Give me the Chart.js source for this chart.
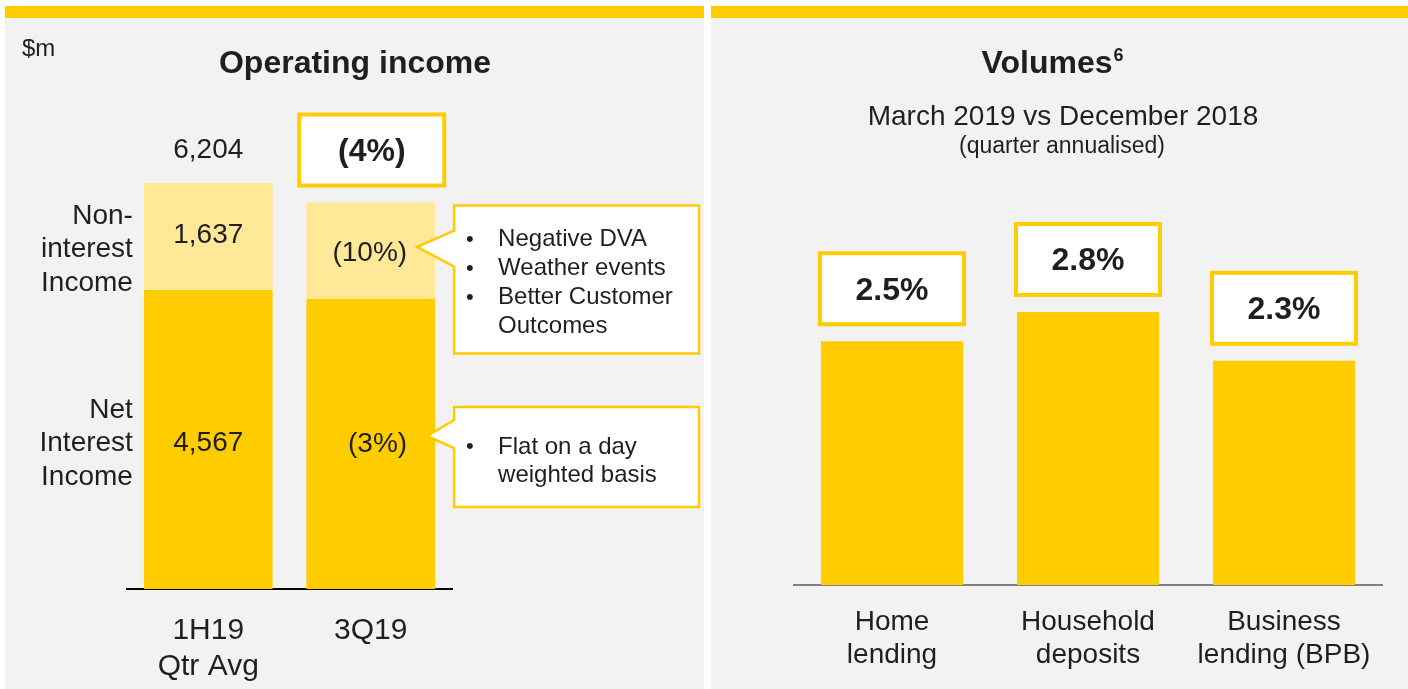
<!DOCTYPE html>
<html>
<head>
<meta charset="utf-8">
<script src="https://cdn.jsdelivr.net/npm/chart.js@4.4.1/dist/chart.umd.min.js"></script>
<style>
body{margin:0;width:1408px;height:689px;background:#fff;position:relative;overflow:hidden}
.panel{position:absolute;top:6px;height:683px;background:#f2f2f2;border-top:12px solid #ffcc00;box-sizing:border-box}
canvas{position:absolute;top:0}
</style>
</head>
<body>
<div class="panel" style="left:5px;width:699px"></div>
<div class="panel" style="left:711px;width:697px"></div>
<canvas id="opIncome" width="699" height="689" style="left:5px"></canvas>
<canvas id="volumes" width="697" height="689" style="left:711px"></canvas>
<script>
var FONT = '"Liberation Sans", Arial, sans-serif';
var YELLOW = '#ffcc00', LIGHT = '#ffe999', INK = '#1f1f1f';

/* Operating income, $m */
var periods = [['1H19', 'Qtr Avg'], '3Q19'];
var netInterest = [4567, 4430];
var nonInterest = [1637, 1473];
var niiLabels = ['4,567', '(3%)'];
var nonLabels = ['1,637', '(10%)'];
var totalLabel = '6,204';
var totalChange = '(4%)';
var nonNotes = [['Negative DVA'], ['Weather events'], ['Better Customer', 'Outcomes']];
var niiNotes = [['Flat on a day', 'weighted basis']];

/* Volumes, % growth */
var volCats = [['Home', 'lending'], ['Household', 'deposits'], ['Business', 'lending (BPB)']];
var volGrowth = [2.5, 2.8, 2.3];

function font(size, bold) {
  return (bold ? 'bold ' : '') + size + 'px ' + FONT;
}

// y is the visual centre of the text; canvas 'middle' sits a touch high
function text(ctx, str, x, y, size, bold, align) {
  ctx.font = font(size, bold);
  ctx.fillStyle = INK;
  ctx.textAlign = align || 'center';
  ctx.textBaseline = 'middle';
  ctx.fillText(str, x, y + 2);
}

function labelBox(ctx, cx, bottom, w, h, str) {
  ctx.save();
  ctx.fillStyle = '#fff';
  ctx.strokeStyle = YELLOW;
  ctx.lineWidth = 4;
  ctx.fillRect(cx - w / 2, bottom - h, w, h);
  ctx.strokeRect(cx - w / 2, bottom - h, w, h);
  ctx.restore();
  text(ctx, str, cx, bottom - h / 2, 32, true);
}

function callout(ctx, left, top, right, bottom, tipX, tipY, up, down, notes, firstY, step) {
  ctx.save();
  ctx.beginPath();
  ctx.moveTo(left, top);
  ctx.lineTo(right, top);
  ctx.lineTo(right, bottom);
  ctx.lineTo(left, bottom);
  ctx.lineTo(left, tipY + down);
  ctx.lineTo(tipX, tipY);
  ctx.lineTo(left, tipY - up);
  ctx.closePath();
  ctx.fillStyle = '#fff';
  ctx.fill();
  ctx.strokeStyle = YELLOW;
  ctx.lineWidth = 2.5;
  ctx.stroke();
  ctx.restore();
  var y = top + firstY;
  notes.forEach(function (item) {
    text(ctx, '\u2022', left + 12, y, 22, false, 'left');
    item.forEach(function (line) {
      text(ctx, line, left + 44, y, 24, false, 'left');
      y += step;
    });
  });
}

var opIncomeLabels = {
  id: 'opIncomeLabels',
  afterDraw: function (chart) {
    var ctx = chart.ctx;
    var nii = chart.getDatasetMeta(0).data;
    var non = chart.getDatasetMeta(1).data;
    function mid(b) { return (b.y + b.base) / 2; }

    ctx.save();
    text(ctx, '$m', 17, 47, 24, false, 'left');
    text(ctx, 'Operating income', 350, 62, 32, true);

    text(ctx, totalLabel, non[0].x, non[0].y - 35, 28);
    labelBox(ctx, non[1].x + 1, non[1].y - 17, 145, 71, totalChange);

    text(ctx, nonLabels[0], non[0].x, mid(non[0]) - 3, 28);
    text(ctx, niiLabels[0], nii[0].x, mid(nii[0]) + 2, 28);
    var r1 = non[1].x + non[1].width / 2;
    text(ctx, nonLabels[1], r1 - 28, mid(non[1]) + 1, 28, false, 'right');
    text(ctx, niiLabels[1], r1 - 28, mid(nii[1]) - 2, 28, false, 'right');

    var l0 = nii[0].x - nii[0].width / 2 - 11;
    ['Non-', 'interest', 'Income'].forEach(function (s, i) {
      text(ctx, s, l0, mid(non[0]) + 11 + (i - 1) * 33.5, 28, false, 'right');
    });
    ['Net', 'Interest', 'Income'].forEach(function (s, i) {
      text(ctx, s, l0, mid(nii[0]) + 2 + (i - 1) * 33.5, 28, false, 'right');
    });

    var boxL = r1 + 19, boxR = chart.width - 5;
    var m1 = mid(non[1]);
    callout(ctx, boxL, non[1].y + 3, boxR, non[1].y + 151, r1 - 18, m1 - 4, 16, 20, nonNotes, 32, 29);
    var m2 = mid(nii[1]);
    callout(ctx, boxL, m2 - 37, boxR, m2 + 63, r1 - 8, m2 - 8, 16, 12, niiNotes, 38, 28);
    ctx.restore();
  }
};

new Chart(document.getElementById('opIncome'), {
  type: 'bar',
  data: {
    labels: periods,
    datasets: [
      { data: netInterest, backgroundColor: YELLOW, barPercentage: 0.8, categoryPercentage: 0.99, borderWidth: 0 },
      { data: nonInterest, backgroundColor: LIGHT, barPercentage: 0.8, categoryPercentage: 0.99, borderWidth: 0 }
    ]
  },
  options: {
    responsive: false,
    animation: false,
    layout: { padding: { left: 122, right: 252, top: 98, bottom: 0 } },
    plugins: { legend: { display: false }, tooltip: { enabled: false } },
    scales: {
      x: {
        stacked: true,
        grid: { display: false, drawTicks: false },
        border: { display: true, color: '#000', width: 2 },
        ticks: { padding: 23, color: INK, font: { family: FONT, size: 30, lineHeight: 1.22 } },
        afterFit: function (scale) { scale.height = 100; }
      },
      y: { stacked: true, display: false, min: 0, max: 7500 }
    }
  },
  plugins: [opIncomeLabels]
});

var volumeLabels = {
  id: 'volumeLabels',
  afterDraw: function (chart) {
    var ctx = chart.ctx;
    ctx.save();
    text(ctx, 'Volumes', 336, 62, 32, true);
    ctx.font = font(32, true);
    var w = ctx.measureText('Volumes').width;
    text(ctx, '6', 336 + w / 2 + 1, 54, 18, true, 'left');
    text(ctx, 'March 2019 vs December 2018', 352, 115, 28);
    text(ctx, '(quarter annualised)', 351, 145, 23);
    chart.getDatasetMeta(0).data.forEach(function (bar, i) {
      labelBox(ctx, bar.x, bar.y - 17, 144, 71, volGrowth[i].toFixed(1) + '%');
    });
    ctx.restore();
  }
};

new Chart(document.getElementById('volumes'), {
  type: 'bar',
  data: {
    labels: volCats,
    datasets: [
      { data: volGrowth, backgroundColor: YELLOW, barPercentage: 0.725, categoryPercentage: 1, borderWidth: 0 }
    ]
  },
  options: {
    responsive: false,
    animation: false,
    layout: { padding: { left: 83, right: 26, top: 195, bottom: 0 } },
    plugins: { legend: { display: false }, tooltip: { enabled: false } },
    scales: {
      x: {
        grid: { display: false, drawTicks: false },
        border: { display: true, color: '#7f7f7f', width: 2 },
        ticks: { padding: 21, color: INK, font: { family: FONT, size: 28, lineHeight: 1.18 } },
        afterFit: function (scale) { scale.height = 104; }
      },
      y: { display: false, min: 0, max: 4 }
    }
  },
  plugins: [volumeLabels]
});
</script>
</body>
</html>
